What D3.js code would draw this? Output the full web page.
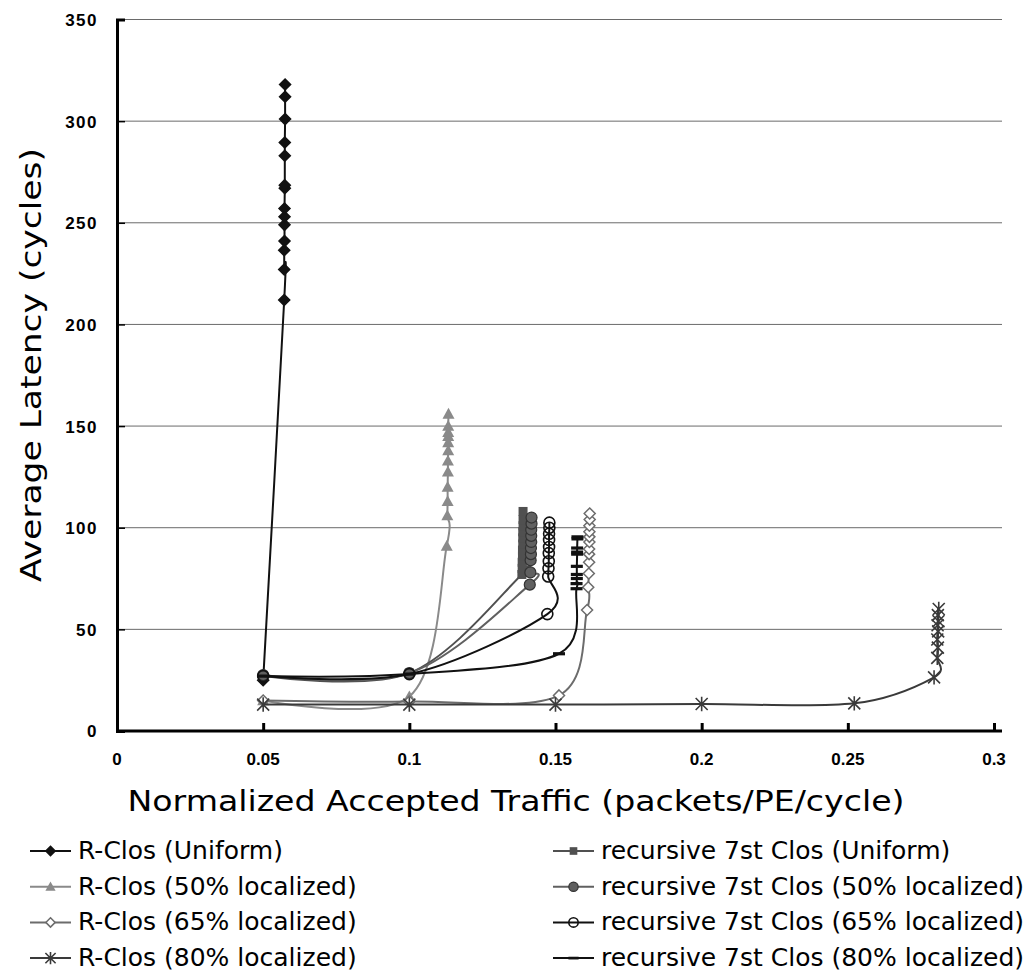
<!DOCTYPE html>
<html>
<head>
<meta charset="utf-8">
<script src="https://cdn.jsdelivr.net/npm/d3@7"></script>
<style>
  body { margin: 0; background: #fff; }
  svg { display: block; }
</style>
</head>
<body>
<script>
// values
const xTicks = [0, 0.05, 0.1, 0.15, 0.2, 0.25, 0.3]
const yTicks = [0, 50, 100, 150, 200, 250, 300, 350]

const rClosUniX = [0.05, 0.0572, 0.0572, 0.0572, 0.0573, 0.0573, 0.0573, 0.0573, 0.0574, 0.0574, 0.0574, 0.0574, 0.0575, 0.0575, 0.0575]
const rClosUniY = [25, 212, 227, 236.5, 241, 249, 253, 257, 267, 268.5, 283, 289.5, 301, 312, 318]

const rClos50X = [0.05, 0.1, 0.1128, 0.1130, 0.1131, 0.1131, 0.1132, 0.1132, 0.1133, 0.1133, 0.1133, 0.1133, 0.1133, 0.1134]
const rClos50Y = [15, 17, 91, 106, 113, 120, 127.5, 133, 138, 142, 145, 147, 150, 156]

const rClos65X = [0.05, 0.1, 0.1512, 0.1608, 0.1612, 0.1614, 0.1615, 0.1615, 0.1615, 0.1616, 0.1616, 0.1616, 0.1616, 0.1617, 0.1617]
const rClos65Y = [15, 14.5, 17.5, 59.5, 70.7, 77.5, 83, 87, 89.5, 93, 95.5, 98, 101, 104, 107]

const rClos80X = [0.05, 0.1, 0.15, 0.2, 0.2522, 0.2795, 0.2806, 0.2808, 0.2806, 0.2809, 0.2807, 0.281, 0.2808, 0.2811]
const rClos80Y = [13, 13, 13, 13.3, 13.6, 26.4, 36, 41, 45, 49, 52, 54, 57, 60]

const recUniX = [0.05, 0.1, 0.1385, 0.1386, 0.1386, 0.1387, 0.1387, 0.1388, 0.1388, 0.1388, 0.1389, 0.1389, 0.1389]
const recUniY = [27, 28.5, 77, 80, 83, 86, 89, 92, 95, 98, 101, 104, 108]

const rec50X = [0.05, 0.1, 0.1412, 0.1414, 0.1415, 0.1416, 0.1416, 0.1417, 0.1417, 0.1417, 0.1418, 0.1418]
const rec50Y = [27.5, 28.5, 72, 78, 84, 87, 90, 93, 96, 99, 102, 105]

const rec65X = [0.05, 0.1, 0.1472, 0.1475, 0.1476, 0.1477, 0.1477, 0.1478, 0.1478, 0.1478, 0.1479, 0.1479]
const rec65Y = [27, 28, 57.5, 76, 80, 83.5, 87.5, 90.5, 94, 97, 100, 102.5]

const rec80X = [0.05, 0.1, 0.1512, 0.1572, 0.1572, 0.1573, 0.1573, 0.1573, 0.1574, 0.1574, 0.1574, 0.1575, 0.1575]
const rec80Y = [27, 28, 38, 70, 72.5, 75, 77, 81, 87, 88, 90, 94.5, 95.5]

const seriesNames = [
    'R-Clos (Uniform)', 'R-Clos (50% localized)', 'R-Clos (65% localized)', 'R-Clos (80% localized)',
    'recursive 7st Clos (Uniform)', 'recursive 7st Clos (50% localized)',
    'recursive 7st Clos (65% localized)', 'recursive 7st Clos (80% localized)'
]
const seriesColors = ['#111', '#8a8a8a', '#6c6c6c', '#3a3a3a', '#505050', '#606060', '#111', '#111']
const seriesMarkers = ['diamond', 'triangle', 'openDiamond', 'star', 'square', 'circle', 'openCircle', 'dash']

const xs = [rClosUniX, rClos50X, rClos65X, rClos80X, recUniX, rec50X, rec65X, rec80X]
const ys = [rClosUniY, rClos50Y, rClos65Y, rClos80Y, recUniY, rec50Y, rec65Y, rec80Y]

const series = seriesNames.map(function(name, i) {
    return {
        name: name,
        color: seriesColors[i],
        marker: seriesMarkers[i],
        points: xs[i].map(function(x, j) { return { x: x, y: ys[i][j] } })
    }
})

const m = { width: 1027, height: 980 }

const svg = d3.select('body').append('svg')
    .attr('width', m.width)
    .attr('height', m.height)

const x = d3.scaleLinear().domain([0, 0.3]).range([117, 994])
const y = d3.scaleLinear().domain([0, 350]).range([731, 19.5])

const tickFont = 'Liberation Sans, Arial, sans-serif'
const titleFont = 'DejaVu Sans, sans-serif'

// gridlines
svg.append('g')
    .selectAll('line')
    .data(yTicks.filter(function(d) { return d > 0 }))
    .enter()
    .append('line')
        .attr('x1', x(0))
        .attr('x2', 1002)
        .attr('y1', function(d) { return y(d) })
        .attr('y2', function(d) { return y(d) })
        .attr('stroke', '#6a6a6a')
        .attr('stroke-width', 1)

// y axis
const yAxis = svg.append('g')
    .attr('transform', 'translate(' + x(0) + ',0)')
    .call(d3.axisRight(y).tickValues(yTicks).tickSize(8).tickFormat(''))
yAxis.select('.domain').attr('stroke', '#000').attr('stroke-width', 3)
yAxis.selectAll('.tick line').attr('stroke', '#000').attr('stroke-width', 1.5)

svg.append('g')
    .selectAll('text')
    .data(yTicks)
    .enter()
    .append('text')
        .attr('x', 98)
        .attr('y', function(d) { return y(d) + 2 })
        .attr('text-anchor', 'end')
        .attr('dominant-baseline', 'middle')
        .style('font-family', tickFont)
        .style('font-size', '17px')
        .style('font-weight', 'bold')
        .style('letter-spacing', '1.5px')
        .text(function(d) { return d })

// x axis
const xAxis = svg.append('g')
    .attr('transform', 'translate(0,' + y(0) + ')')
    .call(d3.axisTop(x).tickValues(xTicks).tickSize(8).tickFormat(''))
xAxis.select('.domain').attr('stroke', '#000').attr('stroke-width', 3)
    .attr('d', 'M' + x(0) + ',0H1002')
xAxis.selectAll('.tick line').attr('stroke', '#000').attr('stroke-width', 3)

svg.append('g')
    .selectAll('text')
    .data(xTicks)
    .enter()
    .append('text')
        .attr('x', function(d) { return x(d) })
        .attr('y', 761)
        .attr('text-anchor', 'middle')
        .attr('dominant-baseline', 'middle')
        .style('font-family', tickFont)
        .style('font-size', '17px')
        .style('font-weight', 'bold')
        .text(function(d) { return d })

// axis titles
svg.append('text')
    .attr('x', 516)
    .attr('y', 803)
    .attr('text-anchor', 'middle')
    .attr('dominant-baseline', 'middle')
    .attr('textLength', 777)
    .attr('lengthAdjust', 'spacingAndGlyphs')
    .style('font-family', titleFont)
    .style('font-size', '29px')
    .text('Normalized Accepted Traffic (packets/PE/cycle)')

svg.append('text')
    .attr('transform', 'translate(33,365) rotate(-90)')
    .attr('text-anchor', 'middle')
    .attr('dominant-baseline', 'middle')
    .attr('textLength', 434)
    .attr('lengthAdjust', 'spacingAndGlyphs')
    .style('font-family', titleFont)
    .style('font-size', '29px')
    .text('Average Latency (cycles)')

// markers
function drawMarker(sel, type, color, size) {
    const s = size || 1
    if (type === 'diamond' || type === 'openDiamond') {
        const r = 5.5 * s
        sel.append('path')
            .attr('d', 'M0,' + (-r) + 'L' + r + ',0L0,' + r + 'L' + (-r) + ',0Z')
            .attr('fill', type === 'diamond' ? color : '#fff')
            .attr('stroke', color)
            .attr('stroke-width', 1.5)
    } else if (type === 'triangle') {
        const r = 6 * s
        sel.append('path')
            .attr('d', 'M0,' + (-r) + 'L' + r + ',' + (r * 0.8) + 'L' + (-r) + ',' + (r * 0.8) + 'Z')
            .attr('fill', color)
    } else if (type === 'star') {
        const r = 6 * s
        sel.append('path')
            .attr('d', 'M' + (-r) + ',' + (-r) + 'L' + r + ',' + r + 'M' + (-r) + ',' + r + 'L' + r + ',' + (-r) + 'M0,' + (-r * 1.2) + 'V' + (r * 1.2))
            .attr('stroke', color)
            .attr('stroke-width', 1.6)
            .attr('fill', 'none')
    } else if (type === 'square') {
        const r = 4.5 * s
        sel.append('rect')
            .attr('x', -r).attr('y', -r).attr('width', 2 * r).attr('height', 2 * r)
            .attr('fill', color)
    } else if (type === 'circle') {
        sel.append('circle')
            .attr('r', 5.5 * s)
            .attr('fill', color)
            .attr('stroke', '#333')
            .attr('stroke-width', 1.2)
    } else if (type === 'openCircle') {
        sel.append('circle')
            .attr('r', 5.5 * s)
            .attr('fill', 'none')
            .attr('stroke', color)
            .attr('stroke-width', 1.6)
    } else if (type === 'dash') {
        sel.append('rect')
            .attr('x', -6 * s).attr('y', -1.6 * s).attr('width', 12 * s).attr('height', 3.2 * s)
            .attr('fill', color)
    }
}

const line = d3.line()
    .x(function(d) { return x(d.x) })
    .y(function(d) { return y(d.y) })
    .curve(d3.curveCatmullRom.alpha(0))

const plot = svg.append('g')

series.forEach(function(s) {
    const g = plot.append('g')
    g.append('path')
        .datum(s.points)
        .attr('d', line)
        .attr('fill', 'none')
        .attr('stroke', s.color)
        .attr('stroke-width', 2)

    g.selectAll('.mk')
        .data(s.points)
        .enter()
        .append('g')
            .attr('class', 'mk')
            .attr('transform', function(d) { return 'translate(' + x(d.x) + ',' + y(d.y) + ')' })
            .each(function() { drawMarker(d3.select(this), s.marker, s.color) })
})

// legend
series.forEach(function(s, i) {
    const col = i < 4 ? 0 : 1
    const row = i % 4
    const lx = col === 0 ? 30 : 553
    const ly = 851 + row * 35.7
    const g = svg.append('g').attr('transform', 'translate(' + lx + ',' + ly + ')')
    g.append('line')
        .attr('x1', 0).attr('x2', 41)
        .attr('y1', 0).attr('y2', 0)
        .attr('stroke', s.color)
        .attr('stroke-width', 2)
    const mk = g.append('g').attr('transform', 'translate(20.5,0)')
    drawMarker(mk, s.marker, s.color, 0.85)
    g.append('text')
        .attr('x', 48)
        .attr('y', 1)
        .attr('dominant-baseline', 'middle')
        .style('font-family', titleFont)
        .style('font-size', '25px')
        .text(s.name)
})
</script>
</body>
</html>
